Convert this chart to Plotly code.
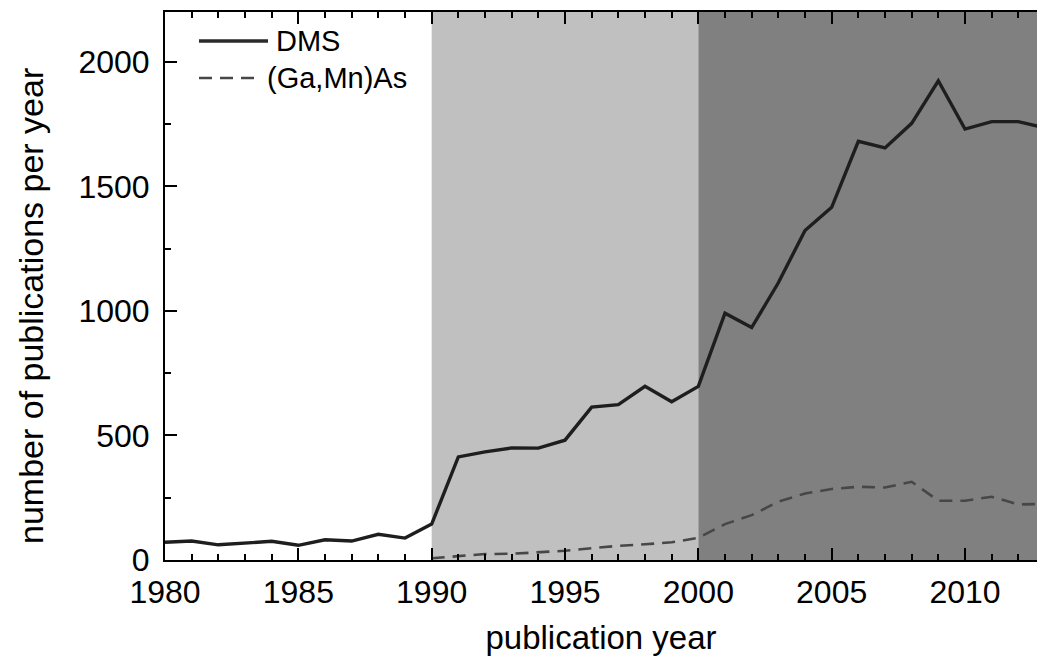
import plotly.graph_objects as go

years = list(range(1980, 2014))
dms = [71, 76, 61, 67, 75, 59, 81, 76, 103, 88,
       144, 414, 434, 450, 449, 481, 614, 624, 697, 635,
       697, 991, 933, 1113, 1323, 1416, 1681, 1654, 1753, 1924,
       1730, 1760, 1760, 1735]

gamnas_years = list(range(1990, 2014))
gamnas = [7, 17, 24, 25, 31, 37, 47, 57, 63, 71,
          89, 144, 180, 234, 267, 285, 294, 291, 314, 238,
          238, 254, 223, 225]

era_bounds = [1990, 2000, 2014]
era_colors = ["#c0c0c0", "#808080"]

x_ticks = [1980, 1985, 1990, 1995, 2000, 2005, 2010]
y_ticks = [0, 500, 1000, 1500, 2000]

FONT = "Liberation Sans, Arial, sans-serif"
PL, PR, PT, PB = 165, 1037, 12, 560  # plot area in pixels
PW, PH = PR - PL, PB - PT


def px(xp):
    return (xp - PL) / PW


def py(yp):
    return (PB - yp) / PH


fig = go.Figure()

for i in range(len(era_colors)):
    fig.add_shape(type="rect", xref="x", yref="paper",
                  x0=era_bounds[i], x1=era_bounds[i + 1], y0=0, y1=1,
                  fillcolor=era_colors[i], line_width=0, layer="below")

fig.add_trace(go.Scatter(x=gamnas_years, y=gamnas, mode="lines", name="(Ga,Mn)As",
                         line=dict(color="#474747", width=2.6, dash="13px,8px"),
                         showlegend=False, cliponaxis=True))
fig.add_trace(go.Scatter(x=years, y=dms, mode="lines", name="DMS",
                         line=dict(color="#1e1e1e", width=3.4),
                         showlegend=False, cliponaxis=True))

# custom legend (lines + labels) in paper coordinates
fig.add_shape(type="line", xref="paper", yref="paper",
              x0=px(199), x1=px(268), y0=py(41), y1=py(41),
              line=dict(color="#2a2a2a", width=3.4))
fig.add_shape(type="line", xref="paper", yref="paper",
              x0=px(199), x1=px(262), y0=py(78), y1=py(78),
              line=dict(color="#474747", width=2.6, dash="13px,8px"))
fig.add_annotation(xref="paper", yref="paper", x=px(274), y=py(41),
                   text="DMS", showarrow=False, xanchor="left", yanchor="middle",
                   font=dict(family=FONT, size=29, color="black"))
fig.add_annotation(xref="paper", yref="paper", x=px(265), y=py(78),
                   text="(Ga,Mn)As", showarrow=False, xanchor="left", yanchor="middle",
                   font=dict(family=FONT, size=29, color="black"))

# y-axis title as rotated text
fig.add_annotation(xref="paper", yref="paper", x=px(31), y=py(306),
                   text="number of publications per year", textangle=-90,
                   showarrow=False, xanchor="center", yanchor="middle",
                   font=dict(family=FONT, size=34, color="black"))

fig.update_layout(
    width=1037, height=657,
    margin=dict(l=PL, r=1037 - PR, t=PT, b=657 - PB),
    plot_bgcolor="white", paper_bgcolor="white",
    font=dict(family=FONT, size=32, color="black"),
    showlegend=False,
)

fig.update_xaxes(
    range=[1980, 2012.7], tickvals=x_ticks, ticktext=[str(v) for v in x_ticks],
    showgrid=False, zeroline=False,
    showline=True, linecolor="black", linewidth=2, mirror="ticks",
    ticks="inside", ticklen=12, tickwidth=2, tickcolor="black",
    minor=dict(dtick=1, ticks="inside", ticklen=6, tickwidth=2, tickcolor="black", showgrid=False),
    tickfont=dict(family=FONT, size=32, color="black"),
    ticklabelstandoff=3,
    title=dict(text="publication year", font=dict(family=FONT, size=33, color="black"), standoff=16),
)
fig.update_yaxes(
    range=[0, 2200], tickvals=y_ticks, ticktext=[str(v) for v in y_ticks],
    showgrid=False, zeroline=False,
    showline=True, linecolor="black", linewidth=2, mirror=False,
    ticks="inside", ticklen=12, tickwidth=2, tickcolor="black",
    minor=dict(dtick=250, ticks="inside", ticklen=6, tickwidth=2, tickcolor="black", showgrid=False),
    tickfont=dict(family=FONT, size=32, color="black"),
    ticklabelstandoff=7,
)

fig.write_html("out.html")
